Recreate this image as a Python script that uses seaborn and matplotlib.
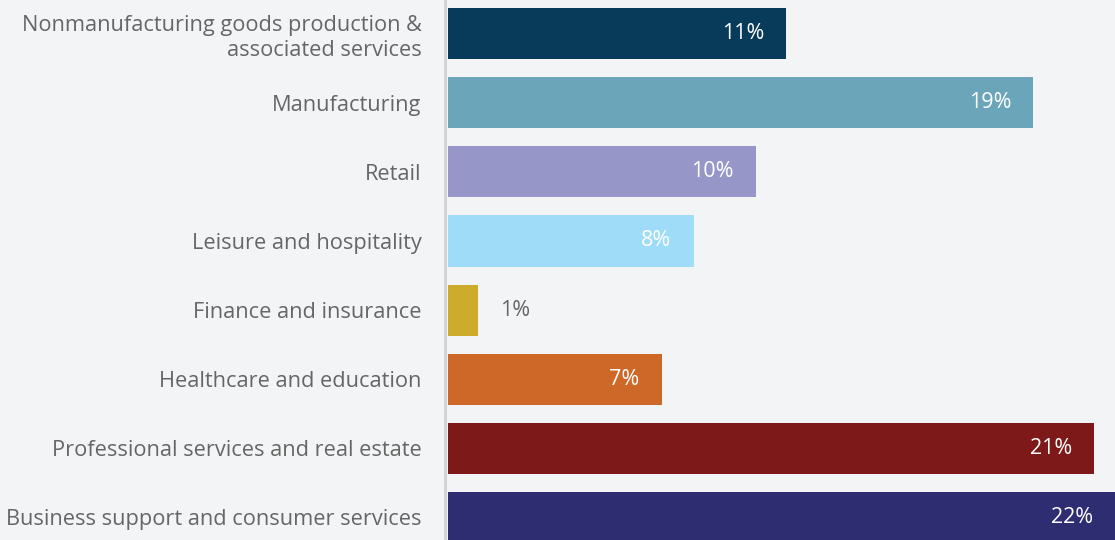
import pandas as pd
import matplotlib
matplotlib.use("Agg")
import matplotlib.pyplot as plt
import seaborn as sns

# -------------------- Data --------------------
categories = [
    "Nonmanufacturing goods production &\nassociated services",
    "Manufacturing",
    "Retail",
    "Leisure and hospitality",
    "Finance and insurance",
    "Healthcare and education",
    "Professional services and real estate",
    "Business support and consumer services",
]
shares = [11.15, 19.3, 10.15, 8.1, 1.0, 7.05, 21.3, 22.0]
labels = ["11%", "19%", "10%", "8%", "1%", "7%", "21%", "22%"]
colors = ["#083a5a", "#6aa5ba", "#9696c8", "#9fdcf7",
          "#cdac2c", "#cd6828", "#7e1919", "#2e2d72"]

BG = "#f3f4f6"
TXT = "#666666"

df = pd.DataFrame({"category": categories, "share": shares})

sns.set_style("white")
plt.rcParams["font.family"] = ["Open Sans", "DejaVu Sans"]

fig = plt.figure(figsize=(11.15, 5.4), dpi=100, facecolor=BG)
ax = fig.add_axes([448 / 1115, 0, 1 - 448 / 1115, 1])
ax.set_facecolor(BG)

sns.barplot(data=df, y="category", x="share", hue="category",
            palette=colors, legend=False, orient="h", width=0.74,
            saturation=1, linewidth=0, ax=ax)

ax.set_xlim(0, 22)
ax.set_ylim(7.33, -0.49)
ax.set_xlabel("")
ax.set_ylabel("")
ax.set_xticks([])
ax.tick_params(axis="y", length=0, pad=17, labelsize=15.7, labelcolor=TXT)
for t in ax.get_yticklabels():
    t.set_horizontalalignment("right")
    t.set_multialignment("right")
    t.set_linespacing(1.05)

for s in ["top", "right", "bottom"]:
    ax.spines[s].set_visible(False)
ax.spines["left"].set_color("#d4d4d4")
ax.spines["left"].set_linewidth(2.2)
ax.spines["left"].set_position(("outward", 2))

# value labels
for i, (v, lab) in enumerate(zip(shares, labels)):
    if v < 3:
        ax.annotate(lab, (v, i), xytext=(22, 0), textcoords="offset pixels",
                    ha="left", va="center", fontsize=15.5, color=TXT)
    else:
        ax.annotate(lab, (v, i), xytext=(-22, 0), textcoords="offset pixels",
                    ha="right", va="center", fontsize=15.5, color="white")

fig.savefig("out.png", dpi=100, facecolor=BG)
